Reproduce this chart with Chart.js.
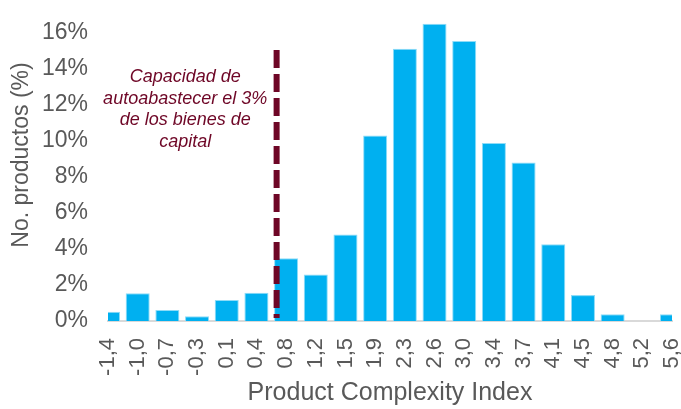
<!DOCTYPE html>
<html>
<head>
<meta charset="utf-8">
<script src="https://cdn.jsdelivr.net/npm/chart.js@4"></script>
<style>
  html, body { margin: 0; padding: 0; background: #fff; }
  #wrap { width: 681px; height: 409px; }
</style>
</head>
<body>
<div id="wrap"><canvas id="pciChart"></canvas></div>
<script>
const categorias = ["-1,4","-1,0","-0,7","-0,3","0,1","0,4","0,8","1,2","1,5","1,9",
                    "2,3","2,6","3,0","3,4","3,7","4,1","4,5","4,8","5,2","5,6"];
const porcentajes = [0.52, 1.54, 0.61, 0.26, 1.17, 1.57, 3.48, 2.59, 4.81, 10.3,
                     15.13, 16.52, 15.56, 9.89, 8.8, 4.26, 1.44, 0.37, 0, 0.37];
const ticksY = [0, 2, 4, 6, 8, 10, 12, 14, 16];

// umbral: posición sobre el eje de categorías y altura en %
const umbralPosicion = 5.68;
const umbralAltura = 15.05;
const notaUmbral = ["Capacidad de", "autoabastecer el 3%", "de los bienes de", "capital"];
const notaPosicion = 2.6;
const notaAltura = 13.55;
const tituloY = 'No. productos (%)';

const gris = '#595959';
const granate = '#6e0626';
const fuente = '"Liberation Sans", Arial, sans-serif';

const lineaUmbral = {
  id: 'lineaUmbral',
  afterDatasetsDraw(chart) {
    const { ctx, chartArea, scales: { x, y } } = chart;
    const px = x.getPixelForValue(umbralPosicion);
    ctx.save();
    ctx.strokeStyle = granate;
    ctx.lineWidth = 6;
    ctx.setLineDash([18, 6]);
    ctx.beginPath();
    ctx.moveTo(px, y.getPixelForValue(umbralAltura));
    ctx.lineTo(px, y.getPixelForValue(0) - 3);
    ctx.stroke();

    ctx.setLineDash([]);
    ctx.fillStyle = granate;
    ctx.font = 'italic 18px ' + fuente;
    ctx.textAlign = 'center';
    ctx.textBaseline = 'middle';
    const tx = x.getPixelForValue(notaPosicion);
    const ty = y.getPixelForValue(notaAltura);
    notaUmbral.forEach((linea, i) => ctx.fillText(linea, tx, ty + i * 21.6));

    // título del eje vertical, algo por encima del centro del área
    ctx.fillStyle = gris;
    ctx.font = '23px ' + fuente;
    ctx.translate(chartArea.left - 86, (chartArea.top + chartArea.bottom) / 2 - 13);
    ctx.rotate(-Math.PI / 2);
    ctx.fillText(tituloY, 0, 0);
    ctx.restore();
  }
};

// tamaños fijos de los ejes; sin relleno extra, las barras de los extremos quedan cortadas
const ajusteX = s => {
  s.paddingLeft = 0; s.paddingRight = 0;
  s.height = 87;
};
const ajusteY = s => {
  s.paddingTop = 0; s.paddingBottom = 0;
  s.width = 100;
};

new Chart(document.getElementById('pciChart'), {
  type: 'bar',
  data: {
    labels: categorias,
    datasets: [{
      data: porcentajes,
      backgroundColor: '#00b0f0',
      borderColor: '#8fdcf7',
      borderWidth: 1,
      barPercentage: 0.81,
      categoryPercentage: 1
    }]
  },
  options: {
    responsive: true,
    maintainAspectRatio: false,
    animation: false,
    layout: { padding: { top: 15, right: 9, bottom: 1, left: 8 } },
    plugins: {
      legend: { display: false },
      tooltip: { enabled: false }
    },
    scales: {
      x: {
        offset: false,
        afterFit: ajusteX,
        grid: { display: false, drawTicks: false, offset: false },
        border: { color: '#d9d9d9', width: 2 },
        ticks: {
          color: gris,
          font: { family: fuente, size: 22 },
          minRotation: 90,
          maxRotation: 90,
          padding: 17,
          autoSkip: false
        },
        title: {
          display: true,
          text: 'Product Complexity Index',
          color: gris,
          font: { family: fuente, size: 25 },
          padding: { top: 2, bottom: 0 }
        }
      },
      y: {
        min: 0,
        max: 17,
        afterFit: ajusteY,
        afterBuildTicks: axis => {
          axis.ticks = ticksY.map(v => ({ value: v }));
        },
        grid: { display: false, drawTicks: false },
        border: { display: false },
        ticks: {
          color: gris,
          font: { family: fuente, size: 23 },
          padding: 20,
          callback: v => v + '%'
        }
      }
    }
  },
  plugins: [lineaUmbral]
});
</script>
</body>
</html>
